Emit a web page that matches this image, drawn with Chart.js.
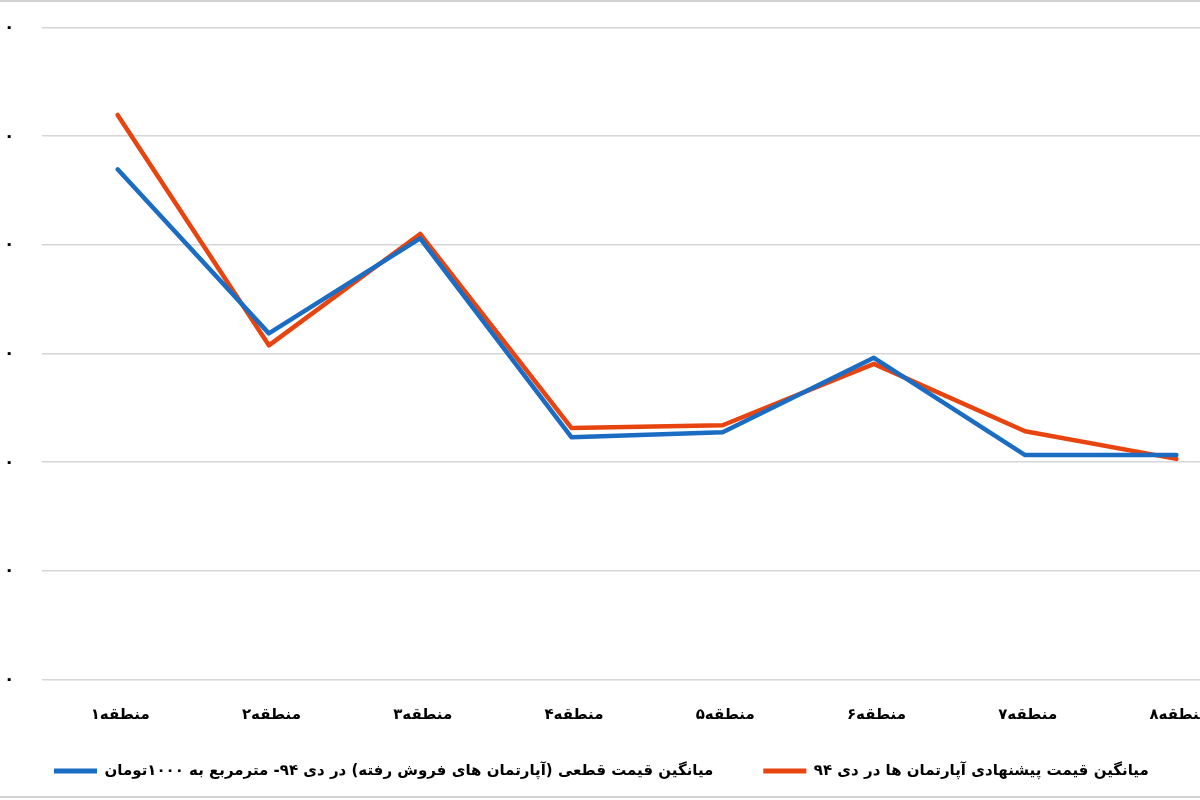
<!DOCTYPE html>
<html lang="fa"><head><meta charset="utf-8">
<script src="https://cdn.jsdelivr.net/npm/chart.js@4.4.0/dist/chart.umd.min.js"></script>
<style>
html,body{margin:0;padding:0;background:#fff;overflow:hidden;width:1200px;height:800px;direction:ltr;}
#wrap{position:absolute;left:0;top:0;width:1252px;height:800px;}
#frameTop{position:absolute;left:0;top:0;width:1200px;height:2px;background:#d2d2d2;}
#frameBot{position:absolute;left:0;top:796px;width:1200px;height:2px;background:#d2d2d2;}
</style></head><body>
<div id="wrap"><canvas id="c"></canvas></div>
<div id="frameTop"></div><div id="frameBot"></div>
<script>
const categories = ['منطقه ۱','منطقه ۲','منطقه ۳','منطقه ۴','منطقه ۵','منطقه ۶','منطقه ۷','منطقه ۸'];
const soldLabel = 'میانگین قیمت قطعی (آپارتمان های فروش رفته) در دی ۹۴- مترمربع به ۱۰۰۰تومان';
const askLabel = 'میانگین قیمت پیشنهادی آپارتمان ها در دی ۹۴';
const soldPrice = [9390, 6370, 8120, 4460, 4550, 5920, 4130, 4130];
const askingPrice = [10390, 6150, 8200, 4630, 4680, 5810, 4570, 4060];
const yMin = 0, yMax = 12000, yStep = 2000;
const yTickLabel = '۰';

const BLUE = '#1b6cc3';
const RED = '#e8440f';
const FONT = 'DejaVu Sans';

new Chart(document.getElementById('c'), {
  type: 'line',
  data: {
    labels: categories,
    datasets: [
      {label: soldLabel, data: soldPrice, borderColor: BLUE, backgroundColor: BLUE, borderWidth: 4.5, pointRadius: 0, tension: 0, borderJoinStyle: 'round', borderCapStyle: 'round'},
      {label: askLabel, data: askingPrice, borderColor: RED, backgroundColor: RED, borderWidth: 4.5, pointRadius: 0, tension: 0, borderJoinStyle: 'round', borderCapStyle: 'round'}
    ]
  },
  options: {
    responsive: true,
    maintainAspectRatio: false,
    animation: false,
    layout: {padding: {top: 27.5, left: 4, right: 0, bottom: 11.5}},
    scales: {
      x: {
        offset: true,
        grid: {display: false, drawTicks: false},
        border: {display: false},
        ticks: {
          mirror: true, padding: -44.5, maxRotation: 0, autoSkip: false, color: '#000',
          font: {family: FONT, size: 15, weight: 'bold'},
          callback: (v, i) => categories[i].replace(' ', '\u200E \u200E')
        },
        afterFit: s => { s.height = 34; }
      },
      y: {
        min: yMin, max: yMax,
        grid: {color: '#d6d6d6', lineWidth: 1.5, drawTicks: false},
        border: {display: false},
        ticks: {
          stepSize: yStep, padding: 0, crossAlign: 'far', color: '#000',
          font: {family: FONT, size: 17, weight: 'bold'},
          callback: () => yTickLabel
        },
        afterFit: s => { s.width = 38; }
      }
    },
    plugins: {
      tooltip: {enabled: false},
      legend: {
        position: 'bottom',
        align: 'start',
        textDirection: 'rtl',
        labels: {
          boxWidth: 43, boxHeight: 5, padding: 50, color: '#000',
          font: {family: FONT, size: 15, weight: 'bold'},
          generateLabels: chart => Chart.defaults.plugins.legend.labels.generateLabels(chart).map(l => Object.assign(l, {lineWidth: 0}))
        }
      }
    }
  }
});
</script>
</body></html>
